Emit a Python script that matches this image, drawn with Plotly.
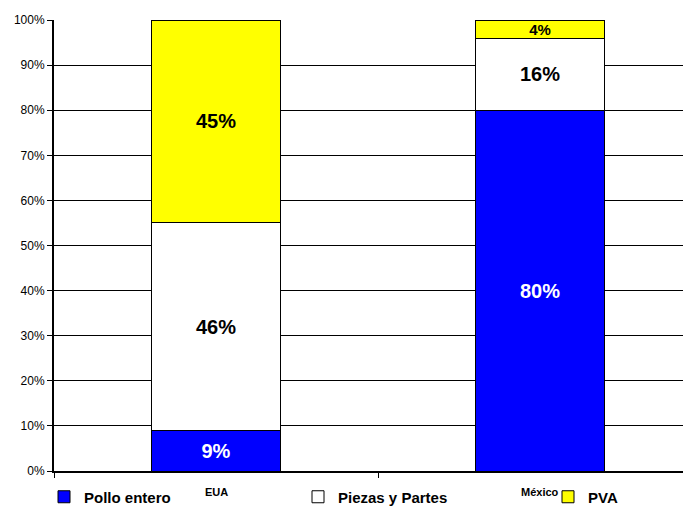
import plotly.graph_objects as go

categories = ["EUA", "México"]
series_names = ["Pollo entero", "Piezas y Partes", "PVA"]
pollo = [9, 80]
piezas = [46, 16]
pva = [45, 4]
colors = ["#0000FF", "#FFFFFF", "#FFFF00"]
ytick_vals = [0, 10, 20, 30, 40, 50, 60, 70, 80, 90, 100]
ytick_text = [f"{v}%" for v in ytick_vals]

xpos = [0, 1]
fig = go.Figure()
series = [pollo, piezas, pva]
text_colors = [["white", "white"], ["black", "black"], ["black", "black"]]
text_sizes = [[20, 20], [20, 20], [20, 15]]
legend_ids = ["legend", "legend2", "legend3"]
for name, vals, col, tc, ts, lg in zip(series_names, series, colors, text_colors, text_sizes, legend_ids):
    fig.add_trace(go.Bar(
        x=xpos, y=vals, name=name, width=0.4, legend=lg,
        marker=dict(color=col, line=dict(color="black", width=1)),
        text=[f"{v}%" for v in vals], textposition="inside",
        insidetextanchor="middle",
        textfont=dict(color=tc, size=ts, family="Liberation Sans, Arial", weight="bold"),
        constraintext="none",
    ))

for xi, c in zip(xpos, categories):
    fig.add_annotation(x=xi, y=0, xref="x", yref="paper", yshift=-29,
                       text=f"<b>{c}</b>", showarrow=False,
                       font=dict(size=11, color="black", family="Liberation Sans, Arial"))

L, T, B = 46, 12, 36
W, H = 683, 499
PW, PH = W - L, H - T - B

def leg(xpx):
    return dict(x=(xpx - L) / PW, xanchor="left", y=-26 / PH, yanchor="middle",
                orientation="h", bgcolor="rgba(0,0,0,0)",
                font=dict(size=15, family="Liberation Sans, Arial", weight="bold", color="black"),
                itemwidth=30)

fig.update_layout(
    barmode="stack",
    width=W, height=H,
    margin=dict(l=L, r=0, t=T, b=B, autoexpand=False),
    plot_bgcolor="white", paper_bgcolor="white",
    font=dict(family="Liberation Sans, Arial", color="black"),
    showlegend=True,
    legend=leg(36),
    legend2=leg(290),
    legend3=leg(540),
    xaxis=dict(range=[-0.5, 1.466], tickmode="array", tickvals=[-0.5, 0.5, 1.5],
               ticktext=["", "", ""], ticks="outside", ticklen=5, tickcolor="black",
               showline=True, linecolor="black", linewidth=2, showgrid=False, zeroline=False,
               automargin=False),
    yaxis=dict(range=[0, 100], tickmode="array", tickvals=ytick_vals, ticktext=ytick_text,
               ticks="outside", ticklen=5, tickcolor="black",
               showline=True, linecolor="black", linewidth=2,
               showgrid=True, gridcolor="black", gridwidth=1, zeroline=False,
               tickfont=dict(size=12, color="black"), automargin=False),
)
fig.write_html("out.html")
